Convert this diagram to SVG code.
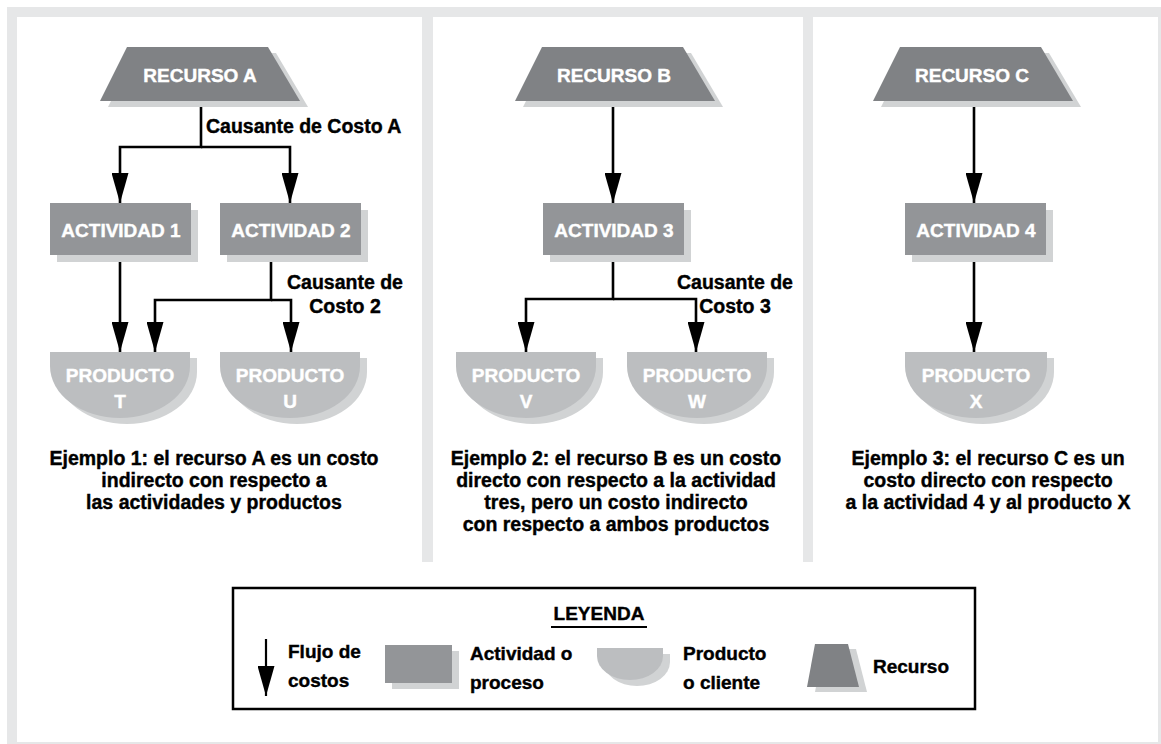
<svg xmlns="http://www.w3.org/2000/svg" width="1161" height="744" viewBox="0 0 1161 744">
<style>
.res{fill:#808285}
.act{fill:#939598}
.prod{fill:#bcbec0}
.sh{fill:#d1d3d4}
.nt{font-family:"Liberation Sans",Arial,sans-serif;font-weight:bold;font-size:19px;fill:#ffffff;stroke:#ffffff;stroke-width:0.4;text-anchor:middle}
.lb{font-family:"Liberation Sans",Arial,sans-serif;font-weight:bold;font-size:19.5px;fill:#000000;stroke:#000000;stroke-width:0.4}
.cap{font-family:"Liberation Sans",Arial,sans-serif;font-weight:bold;font-size:19.5px;fill:#000000;stroke:#000000;stroke-width:0.4;text-anchor:middle}
.lg{font-family:"Liberation Sans",Arial,sans-serif;font-weight:bold;font-size:19px;fill:#000000;stroke:#000000;stroke-width:0.4}
.ln{fill:none;stroke:#000000;stroke-width:2.6}
</style>
<defs>
<marker id="ah" viewBox="0 0 30 17" refX="30" refY="8.5" markerWidth="30" markerHeight="17" markerUnits="userSpaceOnUse" orient="auto">
<path d="M0,0 L30,8.5 L0,17 Z" fill="#000000"/>
</marker>
</defs>
<g id="frame">
<rect x="7" y="7" width="1154" height="737" fill="#e6e7e8"/>
<rect x="17" y="17" width="1141" height="725" fill="#ffffff"/>
<rect x="422" y="17" width="11" height="545" fill="#e6e7e8"/>
<rect x="803" y="17" width="10" height="545" fill="#e6e7e8"/>
</g>
<g id="connectors">
<path class="ln" d="M201,101 V147 H120 V203" marker-end="url(#ah)"/>
<path class="ln" d="M201,147 H290 V203" marker-end="url(#ah)"/>
<path class="ln" d="M120,255 V352" marker-end="url(#ah)"/>
<path class="ln" d="M271,255 V300 H155 V352" marker-end="url(#ah)"/>
<path class="ln" d="M271,300 H291 V352" marker-end="url(#ah)"/>
<path class="ln" d="M613,101 V203" marker-end="url(#ah)"/>
<path class="ln" d="M613,255 V299 H526 V352" marker-end="url(#ah)"/>
<path class="ln" d="M613,299 H696 V352" marker-end="url(#ah)"/>
<path class="ln" d="M974,101 V203" marker-end="url(#ah)"/>
<path class="ln" d="M974,256 V352" marker-end="url(#ah)"/>
</g>
<g id="recursoA">
<path class="sh" d="M135,53 H276 L308,107 H108 Z"/>
<path class="res" d="M127,47 H268 L300,101 H100 Z"/>
<text class="nt" x="200" y="82">RECURSO A</text>
</g>
<g id="recursoB">
<path class="sh" d="M550,53 H691 L723,107 H523 Z"/>
<path class="res" d="M542,47 H683 L715,101 H515 Z"/>
<text class="nt" x="614" y="82">RECURSO B</text>
</g>
<g id="recursoC">
<path class="sh" d="M908,53 H1049 L1081,107 H881 Z"/>
<path class="res" d="M900,47 H1041 L1073,101 H873 Z"/>
<text class="nt" x="972" y="82">RECURSO C</text>
</g>
<g id="actividad1">
<rect class="sh" x="57" y="210" width="141" height="52"/>
<rect class="act" x="50" y="203" width="141" height="52"/>
<text class="nt" x="121" y="237">ACTIVIDAD 1</text>
</g>
<g id="actividad2">
<rect class="sh" x="227" y="210" width="141" height="52"/>
<rect class="act" x="220" y="203" width="141" height="52"/>
<text class="nt" x="291" y="237">ACTIVIDAD 2</text>
</g>
<g id="actividad3">
<rect class="sh" x="550" y="210" width="141" height="52"/>
<rect class="act" x="543" y="203" width="141" height="52"/>
<text class="nt" x="614" y="237">ACTIVIDAD 3</text>
</g>
<g id="actividad4">
<rect class="sh" x="912" y="210" width="141" height="52"/>
<rect class="act" x="905" y="203" width="141" height="52"/>
<text class="nt" x="976" y="237">ACTIVIDAD 4</text>
</g>
<g id="productoT">
<path class="sh" d="M57,358 H197 V372 A70,52 0 0 1 57,372 Z"/>
<path class="prod" d="M50,352 H190 V366 A70,52 0 0 1 50,366 Z"/>
<text class="nt" x="120" y="382">PRODUCTO</text>
<text class="nt" x="120" y="408">T</text>
</g>
<g id="productoU">
<path class="sh" d="M227,358 H367 V372 A70,52 0 0 1 227,372 Z"/>
<path class="prod" d="M220,352 H360 V366 A70,52 0 0 1 220,366 Z"/>
<text class="nt" x="290" y="382">PRODUCTO</text>
<text class="nt" x="290" y="408">U</text>
</g>
<g id="productoV">
<path class="sh" d="M463,358 H603 V372 A70,52 0 0 1 463,372 Z"/>
<path class="prod" d="M456,352 H596 V366 A70,52 0 0 1 456,366 Z"/>
<text class="nt" x="526" y="382">PRODUCTO</text>
<text class="nt" x="526" y="408">V</text>
</g>
<g id="productoW">
<path class="sh" d="M634,358 H774 V372 A70,52 0 0 1 634,372 Z"/>
<path class="prod" d="M627,352 H767 V366 A70,52 0 0 1 627,366 Z"/>
<text class="nt" x="697" y="382">PRODUCTO</text>
<text class="nt" x="697" y="408">W</text>
</g>
<g id="productoX">
<path class="sh" d="M912,358 H1054 V372 A71,52 0 0 1 912,372 Z"/>
<path class="prod" d="M905,352 H1047 V366 A71,52 0 0 1 905,366 Z"/>
<text class="nt" x="976" y="382">PRODUCTO</text>
<text class="nt" x="976" y="408">X</text>
</g>
<g id="labels">
<text class="lb" x="206" y="133">Causante de Costo A</text>
<text class="lb" x="345" y="289" text-anchor="middle">Causante de</text>
<text class="lb" x="345" y="313" text-anchor="middle">Costo 2</text>
<text class="lb" x="735" y="289" text-anchor="middle">Causante de</text>
<text class="lb" x="735" y="313" text-anchor="middle">Costo 3</text>
</g>
<g id="caption1">
<text class="cap" x="214" y="465">Ejemplo 1: el recurso A es un costo</text>
<text class="cap" x="214" y="487">indirecto con respecto a</text>
<text class="cap" x="214" y="509">las actividades y productos</text>
</g>
<g id="caption2">
<text class="cap" x="616" y="465">Ejemplo 2: el recurso B es un costo</text>
<text class="cap" x="616" y="487">directo con respecto a la actividad</text>
<text class="cap" x="616" y="509">tres, pero un costo indirecto</text>
<text class="cap" x="616" y="531">con respecto a ambos productos</text>
</g>
<g id="caption3">
<text class="cap" x="988" y="465">Ejemplo 3: el recurso C es un</text>
<text class="cap" x="988" y="487">costo directo con respecto</text>
<text class="cap" x="988" y="509">a la actividad 4 y al producto X</text>
</g>
<g id="legend">
<rect x="233" y="588" width="742" height="121" fill="#ffffff" stroke="#000000" stroke-width="2.5"/>
<text class="lg" x="599" y="620" text-anchor="middle">LEYENDA</text>
<line x1="551" y1="627" x2="647" y2="627" stroke="#000000" stroke-width="2"/>
<line x1="266" y1="639" x2="266" y2="696" stroke="#000000" stroke-width="2.2" marker-end="url(#ah)"/>
<text class="lg" x="288" y="658">Flujo de</text>
<text class="lg" x="288" y="687">costos</text>
<rect class="sh" x="392" y="651" width="67" height="38"/>
<rect class="act" x="385" y="645" width="67" height="38"/>
<text class="lg" x="470" y="660">Actividad o</text>
<text class="lg" x="470" y="689">proceso</text>
<path class="sh" d="M604,654 H670 V662 A33,24 0 0 1 604,662 Z"/>
<path class="prod" d="M597,648 H663 V656 A33,24 0 0 1 597,656 Z"/>
<text class="lg" x="683" y="660">Producto</text>
<text class="lg" x="683" y="689">o cliente</text>
<path class="sh" d="M823,649 H856 L867,692 H815 Z"/>
<path class="res" d="M815,644 H848 L859,687 H807 Z"/>
<text class="lg" x="873" y="673">Recurso</text>
</g>
</svg>
